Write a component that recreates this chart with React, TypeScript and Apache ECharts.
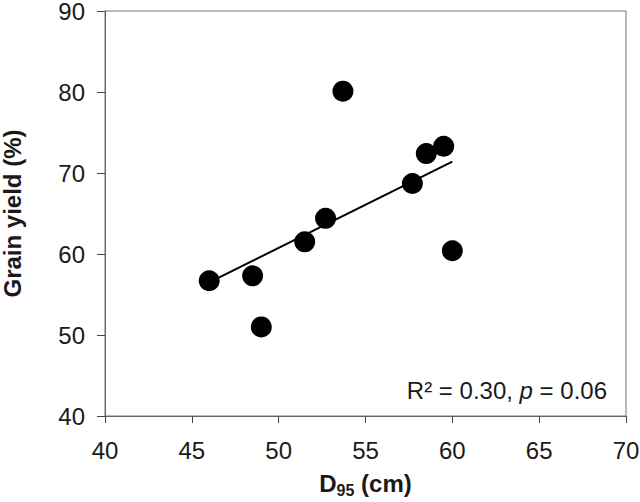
import React, { useEffect, useRef } from "react";
import * as echarts from "echarts";

const d95: number[] = [46.0, 48.5, 49.0, 51.5, 52.7, 53.7, 57.7, 58.5, 59.5, 60.0];
const grainYield: number[] = [56.7, 57.3, 51.0, 61.5, 64.4, 80.1, 68.7, 72.4, 73.3, 60.4];
const trendX: number[] = [46.0, 60.0];
const trendY: number[] = [56.5, 71.4];
const xTicks = { min: 40, max: 70, interval: 5 };
const yTicks = { min: 40, max: 90, interval: 10 };

const FONT = "'Liberation Sans', Arial, sans-serif";

export default function App() {
  const ref = useRef<HTMLDivElement>(null);
  useEffect(() => {
    if (!ref.current) return;
    const chart = echarts.init(ref.current, null, { renderer: "svg" });
    const axisLine = { lineStyle: { color: "#666", width: 1 } };
    chart.setOption({
      animation: false,
      backgroundColor: "#fff",
      grid: {
        left: 105,
        right: 14,
        top: 11,
        bottom: 86,
        show: true,
        borderColor: "#777",
        borderWidth: 1,
        containLabel: false,
        outerBoundsMode: "none",
      },
      xAxis: {
        type: "value",
        min: xTicks.min,
        max: xTicks.max,
        interval: xTicks.interval,
        splitLine: { show: false },
        axisLine: { show: true, ...axisLine },
        axisTick: { show: true, length: 7, lineStyle: { color: "#444" } },
        axisLabel: { color: "#1a1a1a", fontSize: 24, fontFamily: FONT, margin: 22 },
        name: "{b|D}{s|95}{b| (cm)}",
        nameLocation: "middle",
        nameGap: 53,
        nameTextStyle: {
          rich: {
            b: { fontSize: 24, fontWeight: "bold", fontFamily: FONT, color: "#1a1a1a", lineHeight: 28 },
            s: { fontSize: 16, fontWeight: "bold", fontFamily: FONT, color: "#1a1a1a", padding: [14, 0, 0, 0], lineHeight: 28 },
          },
        },
      },
      yAxis: {
        type: "value",
        min: yTicks.min,
        max: yTicks.max,
        interval: yTicks.interval,
        splitLine: { show: false },
        axisLine: { show: true, ...axisLine },
        axisTick: { show: true, length: 8, lineStyle: { color: "#444" } },
        axisLabel: { color: "#1a1a1a", fontSize: 24, lineHeight: 20, fontFamily: FONT, margin: 20 },
        name: "Grain yield (%)",
        nameLocation: "middle",
        nameGap: 81,
        nameTextStyle: { fontSize: 24, fontWeight: "bold", fontFamily: FONT, color: "#1a1a1a" },
      },
      series: [
        {
          type: "line",
          data: trendX.map((x, i) => [x, trendY[i]]),
          showSymbol: false,
          symbol: "none",
          lineStyle: { color: "#000", width: 2 },
          z: 2,
        },
        {
          type: "scatter",
          data: d95.map((x, i) => [x, grainYield[i]]),
          symbol: "circle",
          symbolSize: 21,
          itemStyle: { color: "#000", opacity: 1 },
          z: 3,
        },
      ],
      graphic: [
        {
          type: "text",
          right: 33,
          top: 378,
          style: {
            text: "{n|R² = 0.30, }{i|p}{n| = 0.06}",
            rich: {
              n: { fontSize: 24, fontFamily: FONT, fill: "#1a1a1a", color: "#1a1a1a" },
              i: { fontSize: 24, fontFamily: FONT, fontStyle: "italic", fill: "#1a1a1a", color: "#1a1a1a" },
            },
          },
        },
      ],
    });
    return () => chart.dispose();
  }, []);
  return <div ref={ref} style={{ width: 640, height: 502, position: "absolute", left: 0, top: 0 }} />;
}
